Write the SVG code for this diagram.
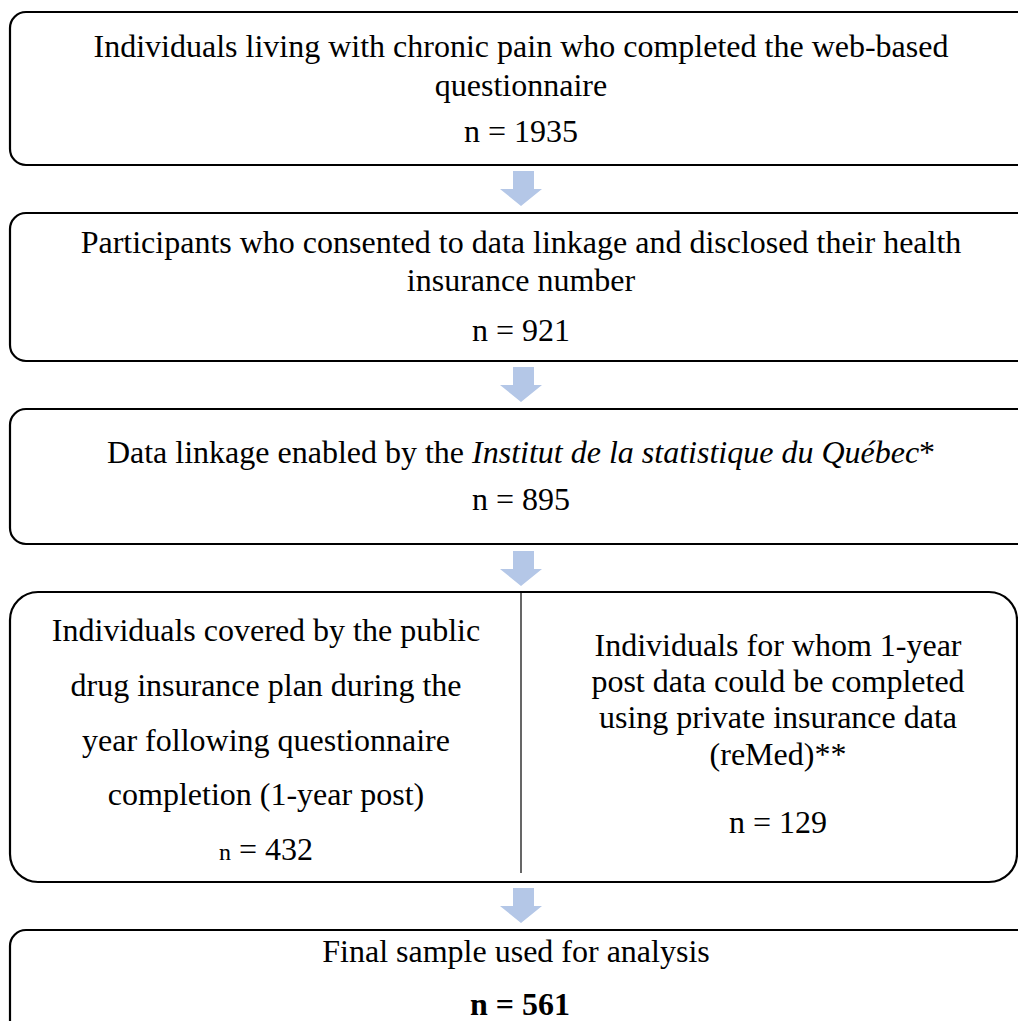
<svg xmlns="http://www.w3.org/2000/svg" width="1018" height="1021" viewBox="0 0 1018 1021">
<style>
.box{fill:#fff;stroke:#000;stroke-width:2.2}
.t{font-family:"Liberation Serif","Times New Roman",serif;font-size:32px;fill:#000;text-anchor:middle}
.arr{fill:#B4C7E7}
</style>
<rect width="1018" height="1021" fill="#fff"/>
<g id="connectors">
<polygon class="arr" points="513,171 534,171 534,189 542,189 521,206 500,189 513,189"/>
<polygon class="arr" points="513,367 534,367 534,385 542,385 521,402 500,385 513,385"/>
<polygon class="arr" points="513,551 534,551 534,569 542,569 521,586 500,569 513,569"/>
<polygon class="arr" points="513,888 534,888 534,906 542,906 521,923 500,906 513,906"/>
</g>
<g id="node1">
<rect class="box" x="10" y="12" width="1030" height="153" rx="16"/>
<text class="t" x="521" y="57">Individuals living with chronic pain who completed the web-based</text>
<text class="t" x="521" y="96">questionnaire</text>
<text class="t" x="521" y="142">n = 1935</text>
</g>
<g id="node2">
<rect class="box" x="10" y="213" width="1030" height="148" rx="16"/>
<text class="t" x="521" y="253">Participants who consented to data linkage and disclosed their health</text>
<text class="t" x="521" y="291">insurance number</text>
<text class="t" x="521" y="341">n = 921</text>
</g>
<g id="node3">
<rect class="box" x="10" y="409" width="1030" height="135" rx="16"/>
<text class="t" x="521" y="463">Data linkage enabled by the <tspan font-style="italic">Institut de la statistique du Québec</tspan>*</text>
<text class="t" x="521" y="510">n = 895</text>
</g>
<g id="node4">
<rect class="box" x="10" y="592" width="1007" height="290" rx="28"/>
<line x1="521" y1="593" x2="521" y2="873" stroke="#000" stroke-width="1.2"/>
<text class="t" x="266" y="641">Individuals covered by the public</text>
<text class="t" x="266" y="696">drug insurance plan during the</text>
<text class="t" x="266" y="751">year following questionnaire</text>
<text class="t" x="266" y="805">completion (1-year post)</text>
<text class="t" x="266" y="860"><tspan font-size="24px">n</tspan> = 432</text>
<text class="t" x="778" y="656">Individuals for whom 1-year</text>
<text class="t" x="778" y="692">post data could be completed</text>
<text class="t" x="778" y="728">using private insurance data</text>
<text class="t" x="778" y="765">(reMed)**</text>
<text class="t" x="778" y="833">n = 129</text>
</g>
<g id="node5">
<rect class="box" x="10" y="930" width="1030" height="110" rx="16"/>
<text class="t" x="516" y="962">Final sample used for analysis</text>
<text class="t" x="520" y="1015" font-weight="bold">n = 561</text>
</g>
</svg>
